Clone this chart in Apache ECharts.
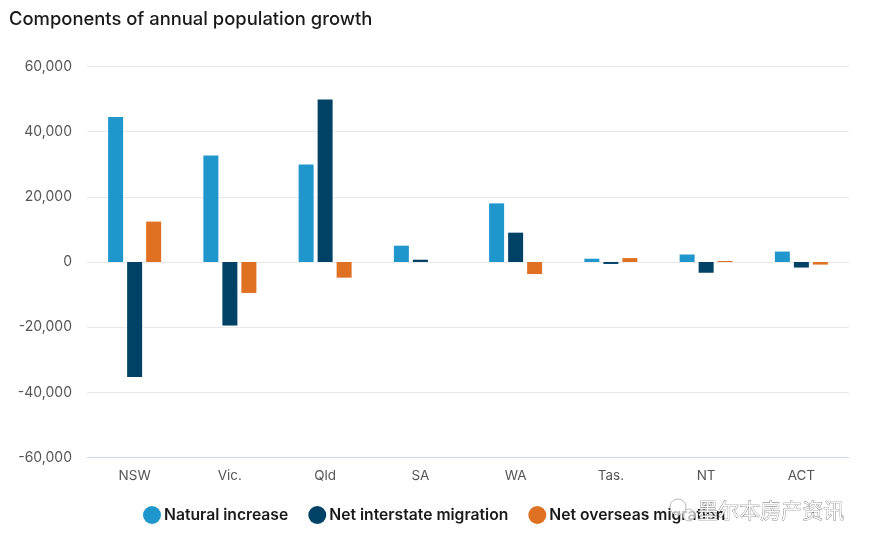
<!DOCTYPE html>
<html lang="en">
<head>
    <meta charset="utf-8">
    <title>Components of annual population growth</title>
    <script src="https://cdn.jsdelivr.net/npm/echarts@6/dist/echarts.min.js"></script>
    <style>
        html, body { margin: 0; padding: 0; background: #fff; }
        #main { width: 872px; height: 549px; }
    </style>
</head>
<body>
<div id="main"></div>
<script type="text/javascript">
    var states = ['NSW', 'Vic.', 'Qld', 'SA', 'WA', 'Tas.', 'NT', 'ACT'];
    var naturalIncrease = [44500, 32700, 29900, 5000, 18000, 1000, 2300, 3200];
    var netInterstate = [-35300, -19500, 49900, 700, 9000, -600, -3300, -1700];
    var netOverseas = [12400, -9500, -4800, 0, -3700, 1200, 300, -800];

    var fontName = 'Inter';

    function barSeries(name, values, color) {
        return {
            name: name,
            type: 'bar',
            data: values,
            barWidth: 15,
            barGap: '26.7%',
            // white halo breaks the gridlines around each bar
            itemStyle: {color: color, shadowColor: '#fff', shadowBlur: 4}
        };
    }

    var myChart = echarts.init(document.getElementById('main'));
    var option = {
        animation: false,
        textStyle: {fontFamily: fontName},
        title: {
            text: 'Components of annual population growth',
            left: 9,
            top: 10,
            padding: 0,
            textStyle: {fontSize: 18.4, fontWeight: 500, color: '#1a1a1a', fontFamily: fontName}
        },
        legend: {
            left: 138,
            top: 501,
            icon: 'circle',
            itemWidth: 18,
            itemHeight: 18,
            itemGap: 20,
            itemStyle: {borderWidth: 0},
            textStyle: {fontSize: 15.7, fontWeight: 600, color: '#1a1a1a', padding: [0, 0, 0, -2]}
        },
        grid: {left: 87, right: 23, top: 66.5, bottom: 91.5},
        xAxis: {
            type: 'category',
            data: states,
            position: 'bottom',
            axisLine: {onZero: false, lineStyle: {color: '#ccd6eb'}},
            axisTick: {show: false},
            axisLabel: {color: '#555', fontSize: 13.5, margin: 11}
        },
        yAxis: {
            type: 'value',
            min: -60000,
            max: 60000,
            interval: 20000,
            axisLine: {show: false},
            axisTick: {show: false},
            axisLabel: {
                color: '#555',
                fontSize: 14,
                margin: 15,
                padding: [4, 0, 0, 0],
                formatter: function (v) { return v.toLocaleString('en-US'); }
            },
            splitLine: {lineStyle: {color: '#e6e6e6'}}
        },
        series: [
            barSeries('Natural increase', naturalIncrease, '#1f96cc'),
            barSeries('Net interstate migration', netInterstate, '#004166'),
            barSeries('Net overseas migration', netOverseas, '#e07022')
        ],
        graphic: [{
            type: 'text',
            left: 697,
            top: 499,
            z: 100,
            style: {
                text: '墨尔本房产资讯',
                font: '21px "Noto Sans CJK SC"',
                fill: '#fff',
                stroke: '#555',
                lineWidth: 0.6,
                opacity: 0.9
            }
        }, {
            // wechat mark of the watermark
            type: 'circle',
            z: 100,
            shape: {cx: 678, cy: 507, r: 8},
            style: {fill: 'rgba(255,255,255,0.7)', stroke: '#bbb', lineWidth: 1}
        }, {
            type: 'circle',
            z: 100,
            shape: {cx: 689, cy: 515, r: 6},
            style: {fill: 'rgba(255,255,255,0.7)', stroke: '#bbb', lineWidth: 1}
        }]
    };

    myChart.setOption(option);
</script>
</body>
</html>
